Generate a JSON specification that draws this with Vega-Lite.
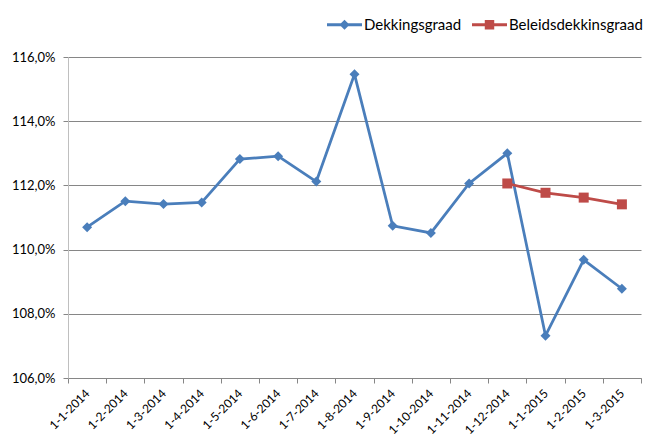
{
  "$schema": "https://vega.github.io/schema/vega-lite/v6.json",
  "autosize": {"type": "none"},
  "padding": {"left": 68, "top": 57, "right": 4, "bottom": 58},
  "width": 573,
  "height": 321,
  "background": "white",
  "config": {
    "view": {"stroke": null},
    "font": "Lato",
    "axis": {"labelFont": "Lato", "labelColor": "#000000"},
    "legend": {"labelFont": "Lato"}
  },
  "data": {
    "values": [
      {"date": "1-1-2014", "series": "Dekkingsgraad", "value": 110.70},
      {"date": "1-2-2014", "series": "Dekkingsgraad", "value": 111.51},
      {"date": "1-3-2014", "series": "Dekkingsgraad", "value": 111.42},
      {"date": "1-4-2014", "series": "Dekkingsgraad", "value": 111.47},
      {"date": "1-5-2014", "series": "Dekkingsgraad", "value": 112.82},
      {"date": "1-6-2014", "series": "Dekkingsgraad", "value": 112.91},
      {"date": "1-7-2014", "series": "Dekkingsgraad", "value": 112.12},
      {"date": "1-8-2014", "series": "Dekkingsgraad", "value": 115.46},
      {"date": "1-9-2014", "series": "Dekkingsgraad", "value": 110.74},
      {"date": "1-10-2014", "series": "Dekkingsgraad", "value": 110.52},
      {"date": "1-11-2014", "series": "Dekkingsgraad", "value": 112.06},
      {"date": "1-12-2014", "series": "Dekkingsgraad", "value": 113.00},
      {"date": "1-1-2015", "series": "Dekkingsgraad", "value": 107.32},
      {"date": "1-2-2015", "series": "Dekkingsgraad", "value": 109.68},
      {"date": "1-3-2015", "series": "Dekkingsgraad", "value": 108.78},
      {"date": "1-12-2014", "series": "Beleidsdekkinsgraad", "value": 112.06},
      {"date": "1-1-2015", "series": "Beleidsdekkinsgraad", "value": 111.77},
      {"date": "1-2-2015", "series": "Beleidsdekkinsgraad", "value": 111.62},
      {"date": "1-3-2015", "series": "Beleidsdekkinsgraad", "value": 111.41}
    ]
  },
  "encoding": {
    "x": {
      "field": "date",
      "type": "ordinal",
      "bandPosition": 0.5,
      "sort": ["1-1-2014","1-2-2014","1-3-2014","1-4-2014","1-5-2014","1-6-2014","1-7-2014","1-8-2014","1-9-2014","1-10-2014","1-11-2014","1-12-2014","1-1-2015","1-2-2015","1-3-2015"],
      "scale": {"type": "band", "paddingInner": 0, "paddingOuter": 0},
      "axis": {
        "title": null,
        "tickBand": "extent",
        "labelAngle": -45,
        "labelAlign": "right",
        "labelBaseline": "middle",
        "labelFontSize": 12,
        "labelPadding": 8,
        "tickSize": 5,
        "tickColor": "#868686",
        "domainColor": "#868686",
        "grid": false,
        "labelOverlap": false
      }
    },
    "y": {
      "field": "value",
      "type": "quantitative",
      "scale": {"domain": [106, 116], "nice": false, "zero": false},
      "axis": {
        "title": null,
        "values": [106, 108, 110, 112, 114, 116],
        "labelExpr": "replace(format(datum.value, '.1f'), '.', ',') + '%'",
        "labelFontSize": 13,
        "labelPadding": 8,
        "tickSize": 5,
        "tickColor": "#868686",
        "domainColor": "#BFBFBF",
        "gridColor": "#868686",
        "grid": true
      }
    },
    "color": {
      "field": "series",
      "type": "nominal",
      "scale": {"domain": ["Dekkingsgraad", "Beleidsdekkinsgraad"], "range": ["#4A7EBB", "#BE4B48"]},
      "legend": {
        "title": null,
        "orient": "none",
        "direction": "horizontal",
        "legendX": 259,
        "legendY": -50,
        "labelFontSize": 15,
        "labelOffset": 2,
        "columnPadding": 10,
        "symbolSize": 1225,
        "symbolStrokeWidth": 0,
        "symbolType": "M-1,-0.085H1V0.085H-1Z M0,-0.29L0.29,0L0,0.29L-0.29,0Z",
        "encode": {
          "symbols": {
            "update": {
              "shape": {"signal": "datum.value === 'Dekkingsgraad' ? 'M-1,-0.085H1V0.085H-1Z M0,-0.29L0.29,0L0,0.29L-0.29,0Z' : 'M-1,-0.085H1V0.085H-1Z M-0.27,-0.27H0.27V0.27H-0.27Z'"}
            }
          }
        }
      }
    }
  },
  "layer": [
    {"mark": {"type": "line", "strokeWidth": 2.75}},
    {
      "mark": {"type": "point", "filled": true, "opacity": 1},
      "encoding": {
        "shape": {
          "condition": {"test": "datum.series === 'Dekkingsgraad'", "value": "diamond"},
          "value": "square"
        },
        "size": {"value": 100}
      }
    }
  ]
}
